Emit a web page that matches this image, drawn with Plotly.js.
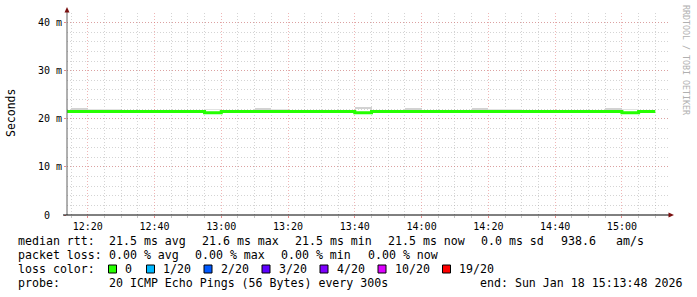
<!DOCTYPE html>
<html>
<head>
<meta charset="utf-8">
<script src="https://cdn.plot.ly/plotly-3.0.1.min.js"></script>
<style>html,body{margin:0;padding:0;background:#fff;}#chart{width:697px;height:297px;}</style>
</head>
<body>
<div id="chart"></div>
<script>
// ---- data ----
var binStarts = ["12:10","12:15","12:20","12:25","12:30","12:35","12:40","12:45","12:50","12:55",
                 "13:00","13:05","13:10","13:15","13:20","13:25","13:30","13:35","13:40","13:45",
                 "13:50","13:55","14:00","14:05","14:10","14:15","14:20","14:25","14:30","14:35",
                 "14:40","14:45","14:50","14:55","15:00","15:05"];
var lastBinEnd = "15:10";
var medianRtt = [21.5,21.5,21.5,21.5,21.5,21.5,21.5,21.5,21.5,21.25,
                 21.5,21.5,21.5,21.5,21.5,21.5,21.5,21.5,21.25,21.5,
                 21.5,21.5,21.5,21.5,21.5,21.5,21.5,21.5,21.5,21.5,
                 21.5,21.5,21.5,21.5,21.25,21.5];
var smokeLo = [null,21.5,21.5,21.5,null,null,null,null,null,21.85,
               null,null,21.5,21.5,null,null,null,null,21.95,null,
               null,21.5,null,null,null,21.5,21.5,21.5,null,null,
               null,null,null,21.5,21.85,null];
var smokeHi = [null,22.2,22.0,22.0,null,null,null,null,null,22.05,
               null,null,22.25,22.0,null,null,null,null,22.45,null,
               null,22.2,null,null,null,22.25,22.0,22.0,null,null,
               null,null,null,22.2,22.05,null];
var smokeShade = ["","d","l","l","","","","","","l",
                  "","","d","l","","","","","d","",
                  "","d","","","","d","l","l","","",
                  "","","","d","l",""];
var day = "2026-01-18";
var rangeStart = "12:13:48", rangeEnd = "15:13:48";
var yTickVals = [0,10,20,30,40];
var yTickText = ["0\u00a0\u00a0","10 m","20 m","30 m","40 m"];
var lossLabels = ["0","1/20","2/20","3/20","4/20","10/20","19/20"];
var lossColors = ["#26ff00","#00b8ff","#0059ff","#5e00ff","#7e00ff","#dd00ff","#ff0000"];
var rttItems  = ["median rtt:","21.5 ms avg","21.6 ms max","21.5 ms min","21.5 ms now","0.0 ms sd","938.6","am/s"];
var lossItems = ["packet loss:","0.00 % avg","0.00 % max","0.00 % min","0.00 % now"];
var probeItems = ["probe:","20 ICMP Echo Pings (56 Bytes) every 300s","end: Sun Jan 18 15:13:48 2026"];
var lossColorTitle = "loss color:";

// ---- layout helpers ----
function ms(t){ return Date.parse(day + "T" + t + (t.length===5?":00":"") + "Z"); }
var L=67, R=668, T=13, B=215, W=R-L, H=B-T;
function px(x){ return (x-L)/W; }
function py(y){ return (B-y)/H; }
function nb(s){ return s.replace(/ /g,"\u00a0"); }
var mono = "DejaVu Sans Mono, monospace";
var FS = 11.6;

var lineX = binStarts.map(function(t){return day+" "+t;}).concat([day+" "+lastBinEnd]);
var lineY = medianRtt.concat([medianRtt[medianRtt.length-1]]);

var barX=[], barBase=[], barY=[], barC=[];
for (var i=0;i<binStarts.length;i++){
  if (smokeLo[i]===null) continue;
  barX.push(ms(binStarts[i]) + 150000);
  barBase.push(smokeLo[i]);
  barY.push(smokeHi[i]-smokeLo[i]);
  barC.push(smokeShade[i]==="d" ? "#d2d2d2" : "#e2e2e2");
}

var traces = [
  {type:"bar", x:barX, y:barY, base:barBase, width:300000,
   marker:{color:barC, line:{width:0}}, hoverinfo:"skip", showlegend:false},
  {type:"scatter", mode:"lines", x:lineX, y:lineY, line:{shape:"hv", color:"#26ff00", width:3},
   hoverinfo:"skip", showlegend:false}
];

var shapes = [
  {type:"line", xref:"paper", yref:"paper", x0:0, x1:0, y0:py(215), y1:py(10), line:{color:"#606060", width:1}},
  {type:"line", xref:"paper", yref:"paper", x0:px(63), x1:px(669), y0:0, y1:0, line:{color:"#000", width:1}},
  {type:"path", xref:"paper", yref:"paper",
   path:"M "+px(64.5)+" "+py(12.5)+" L "+px(69.5)+" "+py(12.5)+" L "+px(67)+" "+py(7)+" Z",
   fillcolor:"#7a1010", line:{width:0}},
  {type:"path", xref:"paper", yref:"paper",
   path:"M "+px(668.5)+" "+py(212.5)+" L "+px(668.5)+" "+py(217.5)+" L "+px(674)+" "+py(215)+" Z",
   fillcolor:"#7a1010", line:{width:0}}
];

function txt(s, x, y){
  return {text:nb(s), xref:"paper", yref:"paper", x:px(x), y:py(y), showarrow:false,
    xanchor:"left", yanchor:"middle", font:{family:mono, size:FS, color:"#000"}};
}
var annotations = [
  {text:"Seconds", xref:"paper", yref:"paper", x:px(11), y:py(113), textangle:-90, showarrow:false,
   xanchor:"center", yanchor:"middle", font:{family:mono, size:11.5, color:"#000"}},
  {text:"RRDTOOL / TOBI OETIKER", xref:"paper", yref:"paper", x:px(686), y:py(60), textangle:90, showarrow:false,
   xanchor:"center", yanchor:"middle", font:{family:mono, size:8.3, color:"#b0b0b0"}}
];
var rttX = [16,107.3,200,293,386,479,558.7,614];
rttItems.forEach(function(s,j){ annotations.push(txt(s, rttX[j], 241.5)); });
var lossX = [16,107.3,193.3,279.3,365.7];
lossItems.forEach(function(s,j){ annotations.push(txt(s, lossX[j], 255.3)); });
annotations.push(txt(lossColorTitle, 16, 269));
var probeX = [16,107.3,478.3];
probeItems.forEach(function(s,j){ annotations.push(txt(s, probeX[j], 282.8)); });

var sqX = [108.5,146.5,204,262,320,378,442.5];
for (var k=0;k<lossLabels.length;k++){
  shapes.push({type:"rect", xref:"paper", yref:"paper", x0:px(sqX[k]), x1:px(sqX[k]+8), y0:py(273), y1:py(265),
    fillcolor:lossColors[k], line:{color:"#000", width:1}});
  annotations.push(txt(lossLabels[k], sqX[k]+14.5, 269));
}

var layout = {
  width:697, height:297,
  margin:{l:L, r:697-R, t:T, b:297-B, pad:0},
  paper_bgcolor:"#fff", plot_bgcolor:"#fff",
  showlegend:false, bargap:0,
  xaxis:{type:"date", range:[day+" "+rangeStart, day+" "+rangeEnd],
    tickformat:"%H:%M", dtick:1200000, tick0:day+" 12:00",
    showgrid:true, gridcolor:"rgba(225,110,110,0.5)", griddash:"1px,2px", gridwidth:1,
    ticks:"outside", ticklen:2, tickcolor:"rgba(225,110,110,0.8)",
    tickfont:{family:mono, size:10, color:"#000"},
    minor:{dtick:300000, tick0:day+" 12:00", showgrid:true, gridcolor:"rgba(160,160,160,0.45)",
      griddash:"1px,2px", gridwidth:1, ticks:"outside", ticklen:2, tickcolor:"rgba(160,160,160,0.6)"},
    showline:false, zeroline:false, fixedrange:true},
  yaxis:{range:[0,42], tickmode:"array", tickvals:yTickVals, ticktext:yTickText,
    showgrid:true, gridcolor:"rgba(225,110,110,0.5)", griddash:"1px,2px", gridwidth:1,
    ticks:"outside", ticklen:2, tickcolor:"rgba(225,110,110,0.8)",
    tickfont:{family:mono, size:10, color:"#000"},
    minor:{dtick:2, showgrid:true, gridcolor:"rgba(160,160,160,0.45)", griddash:"1px,2px", gridwidth:1},
    showline:false, zeroline:false, fixedrange:true},
  shapes:shapes, annotations:annotations
};
Plotly.newPlot("chart", traces, layout, {displayModeBar:false, staticPlot:true});
</script>
</body>
</html>
